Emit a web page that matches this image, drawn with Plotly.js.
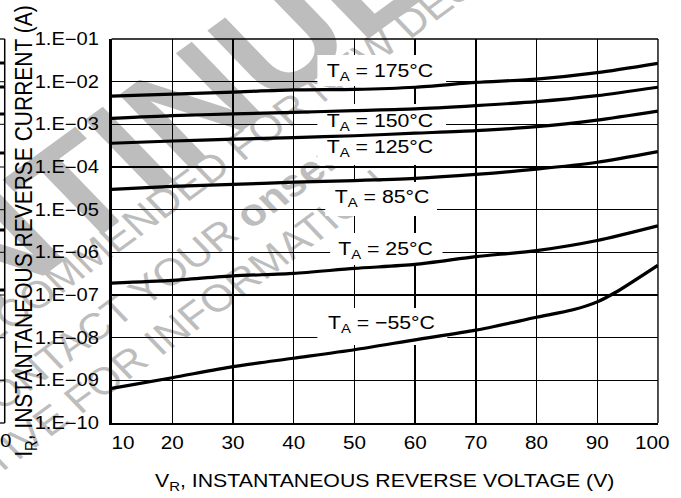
<!DOCTYPE html>
<html><head><meta charset="utf-8">
<script src="https://cdn.plot.ly/plotly-3.0.1.min.js"></script>
<style>
html,body{margin:0;padding:0;background:#fff;overflow:hidden;}
#chart{width:592px;height:498px;transform:scaleX(1.1503);transform-origin:0 0;}
</style></head><body><div id="chart"></div>
<script>
// ---------------- data ----------------
const voltage = [10, 20, 30, 40, 50, 60, 70, 80, 90, 100];
const current175 = [4.6e-3, 5.1e-3, 5.7e-3, 6.4e-3, 6.6e-3, 7.4e-3, 9.6e-3, 1.15e-2, 1.63e-2, 2.7e-2];
const current150 = [1.38e-3, 1.6e-3, 1.75e-3, 1.9e-3, 2.1e-3, 2.3e-3, 2.75e-3, 3.4e-3, 4.7e-3, 7.4e-3];
const current125 = [3.6e-4, 4.07e-4, 4.5e-4, 4.9e-4, 5.4e-4, 6.2e-4, 7.1e-4, 8.8e-4, 1.26e-3, 2.05e-3];
const current85  = [3.0e-5, 3.5e-5, 3.9e-5, 4.4e-5, 4.8e-5, 5.4e-5, 6.7e-5, 8.9e-5, 1.29e-4, 2.3e-4];
const current25  = [1.9e-7, 2.2e-7, 2.8e-7, 3.2e-7, 4.2e-7, 5.2e-7, 7.9e-7, 1.1e-6, 1.9e-6, 4.2e-6];
const voltageM55 = [10, 20, 30, 40, 50, 60, 70, 80, 86, 90, 93, 100];
const currentM55 = [6.5e-10, 1.15e-9, 2.1e-9, 3.3e-9, 5.2e-9, 8.9e-9, 1.5e-8, 3.0e-8, 4.5e-8, 6.9e-8, 1.15e-7, 5.0e-7];

const seriesNames = ['T<sub>A</sub> = 175°C', 'T<sub>A</sub> = 150°C', 'T<sub>A</sub> = 125°C',
                     'T<sub>A</sub> = 85°C', 'T<sub>A</sub> = 25°C', 'T<sub>A</sub> = −55°C'];
const xTickVals = [10, 20, 30, 40, 50, 60, 70, 80, 90, 100];
const xTickText = ['10', '20', '30', '40', '50', '60', '70', '80', '90', '100'];
const yTickVals = [1e-10, 1e-9, 1e-8, 1e-7, 1e-6, 1e-5, 1e-4, 1e-3, 1e-2, 1e-1];
const yTickText = ['1.E−10', '1.E−09', '1.E−08', '1.E−07', '1.E−06', '1.E−05', '1.E−04', '1.E−03', '1.E−02', '1.E−01'];
const xTitle = 'V<sub>R</sub>, INSTANTANEOUS REVERSE VOLTAGE (V)';
const yTitle = 'I<sub>R</sub>, INSTANTANEOUS REVERSE CURRENT (A)';
const watermarkLines = ['<b>DISCONTINUED</b>', 'NOT RECOMMENDED FOR NEW DESIGN',
                        'PLEASE CONTACT YOUR <b>onsemi</b>', 'REPRESENTATIVE FOR INFORMATION'];

// ---------------- layout helpers ----------------
const FONT = 'Liberation Sans, Arial, Helvetica, sans-serif';
const W = 592, H = 498;
const M = {l: 96.5, r: 20, t: 39, b: 75};
const PW = W - M.l - M.r, PH = H - M.t - M.b;
const px = x => (x - M.l) / PW;          // pixel -> paper x
const py = y => 1 - (y - M.t) / PH;      // pixel -> paper y
const P10 = e => Math.pow(10, e);

const curveX = [voltage, voltage, voltage, voltage, voltage, voltageM55];
const curveY = [current175, current150, current125, current85, current25, currentM55];

const traces = curveY.map((ys, i) => ({
  x: curveX[i], y: ys, type: 'scatter', mode: 'lines', name: seriesNames[i],
  line: {color: '#000', width: 3.2, shape: 'spline', smoothing: 0.7},
  hoverinfo: 'skip', showlegend: false
}));

// label positions: [x (data), log10 y]
const labelPos = [[54.3, -1.766], [54.3, -2.938], [54.3, -3.566], [54.5, -4.734], [55.1, -5.938], [54.4, -7.68]];
// white boxes behind the labels: [x0, x1, log y0, log y1]
const boxes = [[43.9, 65.1, -1.375, -2.10], [43.9, 65.1, -2.523, -3.953], [45.2, 63.6, -4.351, -5.148],
               [46.0, 64.5, -5.547, -6.297], [43.9, 65.3, -7.305, -8.172]];

const annotations = seriesNames.map((t, i) => ({
  x: labelPos[i][0], y: labelPos[i][1], xref: 'x', yref: 'y', text: t, showarrow: false,
  xanchor: 'center', yanchor: 'middle', font: {family: FONT, size: 18.5, color: '#000'}
}));
// y-axis title, placed precisely
annotations.push({x: px(21.3), y: py(231), xref: 'paper', yref: 'paper', text: yTitle, showarrow: false,
  textangle: -90, xanchor: 'center', yanchor: 'middle', font: {family: FONT, size: 21, color: '#000'}});
// cropped neighbour-figure tick label at far left
annotations.push({x: px(11.5), y: py(441), xref: 'paper', yref: 'paper', text: '100', showarrow: false,
  xanchor: 'right', yanchor: 'middle', font: {family: FONT, size: 18, color: '#000'}});

const shapes = [];
boxes.forEach(b => shapes.push({type: 'rect', xref: 'x', yref: 'y', x0: b[0], x1: b[1], y0: P10(b[2]), y1: P10(b[3]),
  fillcolor: '#fff', line: {width: 0}, layer: 'between'}));
// top / right frame
shapes.push({type: 'line', xref: 'paper', yref: 'paper', x0: 0, x1: 1, y0: 1, y1: 1, line: {color: '#000', width: 1.3}, layer: 'above'});
shapes.push({type: 'line', xref: 'paper', yref: 'paper', x0: 1, x1: 1, y0: 0, y1: 1, line: {color: '#000', width: 1.2}, layer: 'above'});

// watermark (drawn underneath everything)
const wm = [
  {cx: 14, cy: 215, size: 140, ang: -40},
  {cx: 172, cy: 172, size: 38, ang: -40},
  {cx: 78, cy: 325, size: 38, ang: -40},
  {cx: 61, cy: 400, size: 38, ang: -40}
];
wm.forEach((w, i) => shapes.push({type: 'rect', xref: 'paper', yref: 'paper',
  x0: px(w.cx) - 0.001, x1: px(w.cx) + 0.001, y0: py(w.cy) - 0.001, y1: py(w.cy) + 0.001,
  line: {width: 0}, fillcolor: 'rgba(0,0,0,0)', layer: 'below',
  label: {text: watermarkLines[i], textangle: w.ang, textposition: 'middle center',
          font: {family: FONT, size: w.size, color: '#bdbdbd'}}}));

// neighbouring figure edge on the far left
const edgeX = 3.5;
shapes.push({type: 'line', xref: 'paper', yref: 'paper', x0: px(edgeX), x1: px(edgeX), y0: py(39), y1: py(423), line: {color: '#000', width: 1.3}});
[39, 423].forEach(y => shapes.push({type: 'line', xref: 'paper', yref: 'paper', x0: px(-5), x1: px(edgeX), y0: py(y), y1: py(y), line: {color: '#000', width: 1.3}}));
[81.7, 124.3, 167, 209.7, 252.3, 295, 337.7, 380.3].forEach(y => shapes.push({type: 'line', xref: 'paper', yref: 'paper', x0: px(-5), x1: px(edgeX), y0: py(y), y1: py(y), line: {color: '#000', width: 1}}));
[63, 87, 114, 153, 230, 290].forEach(y => shapes.push({type: 'line', xref: 'paper', yref: 'paper', x0: px(-5), x1: px(edgeX), y0: py(y), y1: py(y), line: {color: '#000', width: 3}}));

const NB = '\u00a0';
const xText = xTickText.map((t, i) => i === 0 ? NB.repeat(4) + t : (i === xTickText.length - 1 ? t + NB.repeat(2) : t));

const layout = {
  width: W, height: H, margin: M,
  paper_bgcolor: '#fff', plot_bgcolor: 'rgba(0,0,0,0)',
  showlegend: false,
  font: {family: FONT, color: '#000'},
  xaxis: {
    range: [10, 100], tickmode: 'array', tickvals: xTickVals, ticktext: xText,
    showgrid: true, gridcolor: '#000', gridwidth: 1.2, zeroline: false,
    showline: true, linecolor: '#000', linewidth: 2.2, mirror: false, ticks: '',
    ticklabelstandoff: 2, ticklabeloverflow: 'allow', tickfont: {family: FONT, size: 18, color: '#000'},
    title: {text: xTitle, font: {family: FONT, size: 18.5, color: '#000'}, standoff: 22},
    automargin: false, fixedrange: true
  },
  yaxis: {
    type: 'log', range: [-10, -1], tickmode: 'array', tickvals: yTickVals, ticktext: yTickText,
    showgrid: true, gridcolor: '#000', gridwidth: 1.3, zeroline: false,
    showline: true, linecolor: '#000', linewidth: 2.4, mirror: false, ticks: '',
    ticklabelstandoff: 5, ticklabeloverflow: 'allow', tickfont: {family: FONT, size: 17.5, color: '#000'},
    automargin: false, fixedrange: true
  },
  annotations: annotations,
  shapes: shapes
};

Plotly.newPlot('chart', traces, layout, {staticPlot: true, displayModeBar: false});
</script>
</body></html>
